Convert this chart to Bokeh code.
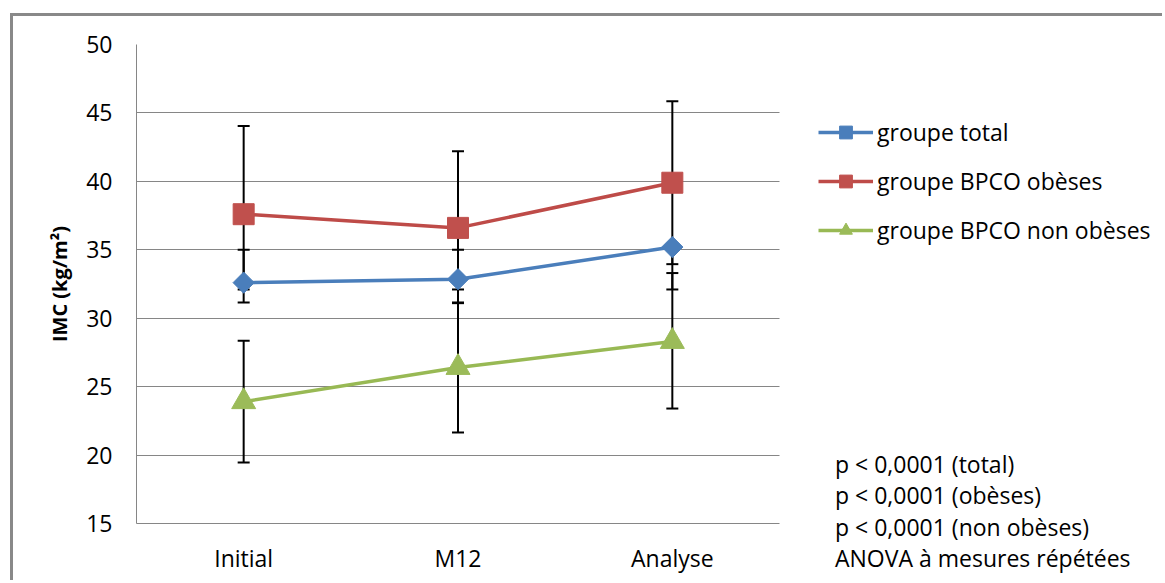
from bokeh.plotting import figure
from bokeh.models import (Range1d, Legend, LegendItem, FixedTicker, Div, BoxAnnotation)
from bokeh.layouts import column
from bokeh.embed import file_html
from bokeh.resources import INLINE
import math

# ---- data ----
categories = ["Initial", "M12", "Analyse"]

total = [32.6, 32.85, 35.2]
total_low = [32.1, 32.1, 32.1]
total_high = [35.0, 35.0, 35.0]

obese = [37.6, 36.6, 39.9]
obese_low = [31.15, 31.1, 33.95]
obese_high = [44.05, 42.2, 45.85]

nonobese = [23.9, 26.4, 28.3]
nonobese_low = [19.45, 21.65, 23.4]
nonobese_high = [28.35, 31.15, 33.3]

series_names = ["groupe total", "groupe BPCO obèses", "groupe BPCO non obèses"]
y_ticks = [15, 20, 25, 30, 35, 40, 45, 50]
y_title = "IMC (kg/m²)"
notes = ["p < 0,0001 (total)", "p < 0,0001 (obèses)", "p < 0,0001 (non obèses)",
         "ANOVA à mesures répétées"]

FONT = "Open Sans"
GRID = "#868686"

# category slots: each category occupies one unit, centred on i + 0.5
n_cat = len(categories)
x_pos = [i + 0.5 for i in range(n_cat)]

CANVAS_W, CANVAS_H = 1152, 567
BORDER_L = 123
PLOT_W = 643                      # width of the category area in pixels
FRAME_W = CANVAS_W - BORDER_L     # frame runs to the right edge (room for legend)
x_end = n_cat * FRAME_W / PLOT_W

p = figure(x_range=Range1d(0, x_end), y_range=Range1d(15, 50),
           width=CANVAS_W, height=CANVAS_H, output_backend="svg", toolbar_location=None,
           min_border_left=BORDER_L, min_border_right=0, min_border_top=28,
           min_border_bottom=60)
p.styles = {"margin-left": "10px", "margin-top": "13px",
            "border-top": "3px solid #898989", "border-left": "3px solid #898989"}
p.outline_line_color = None
p.background_fill_color = "white"
p.border_fill_color = "white"

p.xgrid.visible = False
p.ygrid.grid_line_color = GRID
p.ygrid.grid_line_width = 1
p.yaxis.ticker = FixedTicker(ticks=y_ticks)
p.xaxis.ticker = FixedTicker(ticks=x_pos)
p.xaxis.major_label_overrides = {x: c for x, c in zip(x_pos, categories)}
p.xaxis.bounds = (0, n_cat)

# hide the gridlines to the right of the category area
p.add_layout(BoxAnnotation(left=n_cat, fill_color="white", fill_alpha=1.0,
                           line_color=None, level="underlay"))

for ax in (p.xaxis[0], p.yaxis[0]):
    ax.axis_line_color = GRID
    ax.axis_line_width = 1
    ax.major_tick_line_color = None
    ax.minor_tick_line_color = None
    ax.major_label_text_font = FONT
    ax.major_label_text_font_size = "23px"
    ax.major_label_text_color = "#000000"
p.yaxis.major_label_standoff = 18
p.xaxis.major_label_standoff = 12
p.yaxis.axis_label = y_title
p.yaxis.axis_label_text_font = FONT
p.yaxis.axis_label_text_font_style = "bold"
p.yaxis.axis_label_text_font_size = "20px"
p.yaxis.axis_label_text_color = "#000000"
p.yaxis.axis_label_standoff = 10

# error bars (under the markers)
for lo, hi in ((total_low, total_high), (obese_low, obese_high), (nonobese_low, nonobese_high)):
    p.segment(x0=x_pos, y0=lo, x1=x_pos, y1=hi, line_color="black", line_width=2)
    p.scatter(x=x_pos, y=lo, marker="dash", size=12, line_color="black", line_width=2)
    p.scatter(x=x_pos, y=hi, marker="dash", size=12, line_color="black", line_width=2)

items = []
specs = [
    (total, "#4A7EBB", "#4A7EBB", "square", 15, math.pi / 4),
    (obese, "#BE4B48", "#C0504D", "square", 21, 0),
    (nonobese, "#98B954", "#9BBB59", "triangle", 24, 0),
]
for (vals, lc, mc, mk, sz, ang), name in zip(specs, series_names):
    lr = p.line(x=x_pos, y=vals, line_color=lc, line_width=3.5)
    mr = p.scatter(x=x_pos, y=vals, marker=mk, size=sz, angle=ang,
                   fill_color=mc, line_color=mc, line_width=1)
    items.append(LegendItem(label=name, renderers=[lr, mr]))

legend = Legend(items=items, location=(682, 277), glyph_width=55, glyph_height=32,
                label_height=32, spacing=17, label_standoff=4, padding=0, margin=0,
                border_line_color=None, background_fill_alpha=0,
                label_text_font=FONT, label_text_font_size="23px",
                label_text_color="#000000")
p.add_layout(legend)

notes_html = "<br>".join(t.replace("<", "&lt;") for t in notes)
div = Div(text=notes_html,
          styles={"position": "absolute", "left": "830px", "top": "444px",
                  "font-family": "'Open Sans'", "font-size": "23px",
                  "line-height": "31.3px", "color": "#000000",
                  "white-space": "nowrap"})

open("out.html", "w").write(file_html(column(p, div), INLINE))
